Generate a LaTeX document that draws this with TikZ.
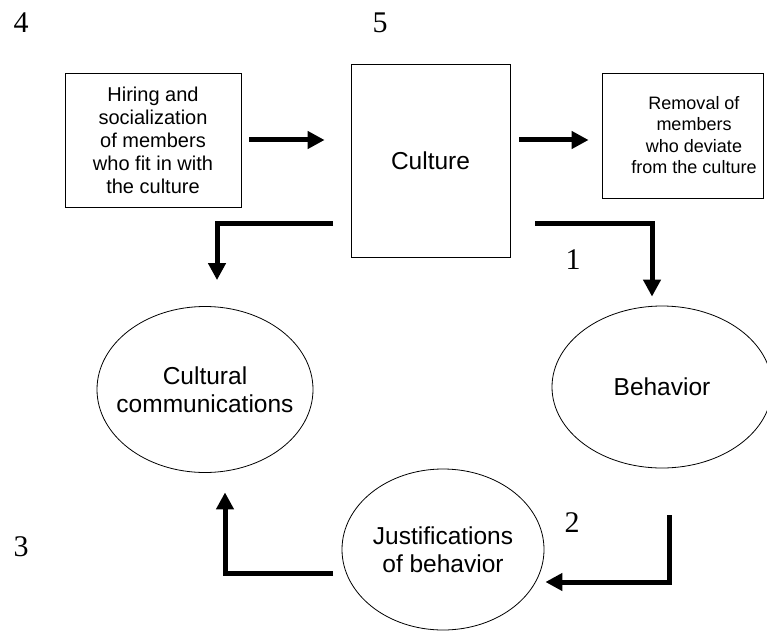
\documentclass[tikz,border=0pt]{standalone}
\usepackage{fontspec}
\setmainfont{Liberation Sans}
\newfontfamily\numfont{Liberation Serif}
\usetikzlibrary{arrows.meta,shapes.geometric}

\newcommand{\txtbig}{\fontsize{24.5}{28}\selectfont}
\newcommand{\txtmid}{\fontsize{20}{23}\selectfont}
\newcommand{\txtsmall}{\fontsize{18}{21.5}\selectfont}

\begin{document}
\begin{tikzpicture}[
  x=1pt, y=-1pt,
  box/.style={draw, line width=0.8pt, inner sep=0pt, align=center},
  bubble/.style={ellipse, draw, line width=0.8pt, inner sep=0pt, align=center, font=\txtbig},
  flow/.style={line width=5pt, -{Triangle[width=17pt,length=17pt]}},
  num/.style={font=\numfont\fontsize{30}{30}\selectfont, inner sep=0pt},
]
\useasboundingbox (0,0) rectangle (767,631);

% --- step numbers ---
\node[num] (n4) at (21,23) {4};
\node[num] (n5) at (380,23) {5};
\node[num] (n1) at (573,260) {1};
\node[num] (n2) at (572,523) {2};
\node[num] (n3) at (21,547) {3};

% --- top row ---
\node[box, font=\txtmid, minimum width=176pt, minimum height=134pt] (hire) at (153,140)
  {Hiring and\\socialization\\of members\\who fit in with\\the culture};
\node[box, font=\txtbig, minimum width=159pt, minimum height=193pt] (culture) at (430.5,160.5) {Culture};
\node[box, minimum width=161pt, minimum height=125pt] (removal) at (682.5,135.5) {};
\node[font=\txtsmall, align=center, inner sep=0pt] (removaltxt) at (694,135)
  {Removal of\\members\\who deviate\\from the culture};

% --- cycle ---
\node[bubble, minimum width=216pt, minimum height=166pt,
  label={[font=\txtbig, align=center]center:Cultural\\communications}] (comm) at (205,389.5) {};
\node[bubble, minimum width=220pt, minimum height=162pt] (behav) at (662,387) {Behavior};
\node[bubble, minimum width=202pt, minimum height=161pt] (justify) at (443,549.5)
  {Justifications\\of behavior};

\coordinate (tl) at (333,223);
\coordinate (tr) at (535,223);
\coordinate (br) at (669,515);
\coordinate (bl) at (333,573);

\draw[flow, shorten <=8pt, shorten >=26pt] (hire.east) -- (hire.east -| culture.west);
\draw[flow, shorten <=9pt, shorten >=13pt] (hire.east -| culture.east) -- (hire.east -| removal.west);
\draw[flow] (tl) -| ([xshift=12pt, yshift=26pt]comm.north);
\draw[flow] (tr) -| ([xshift=-10pt, yshift=9pt]behav.north);
\draw[flow] (br) |- ([xshift=1pt, yshift=-32.5pt]justify.east);
\draw[flow] (bl) -| ([xshift=20pt, yshift=-19.5pt]comm.south);

\end{tikzpicture}
\end{document}
